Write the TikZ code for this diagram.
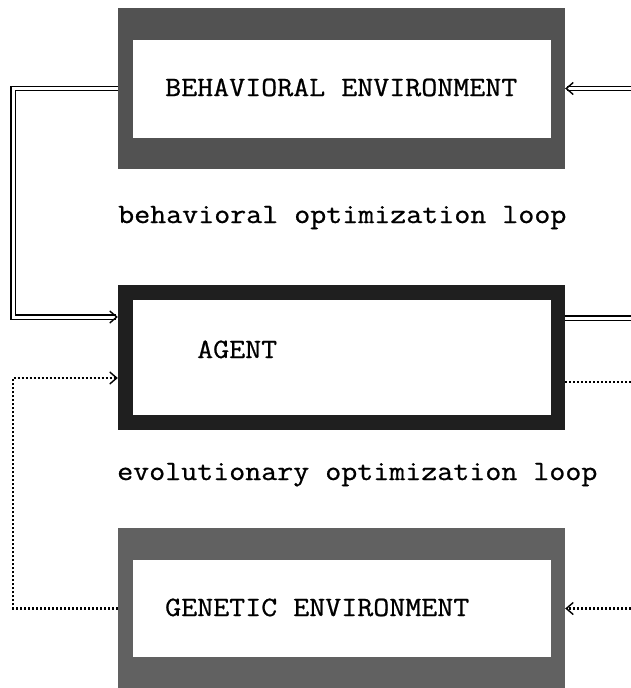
\documentclass[tikz,border=0pt]{standalone}
\usepackage{fontspec}
\setmonofont{Latin Modern Mono}[FakeStretch=1.11, FakeBold=0.8]
\usetikzlibrary{arrows.meta,positioning}

\begin{document}
\begin{tikzpicture}[x=1pt, y=-1pt,
    >={Straight Barb[length=7pt, width=12pt, line width=1.4pt]},
    font=\fontsize{28}{32}\selectfont\ttfamily,
    frame/.style={rectangle, inner sep=0pt, minimum width=447pt},
    pane/.style={rectangle, fill=white, inner sep=0pt, minimum width=418pt},
    dbl/.style={double, line width=1.3pt, double distance=3pt},
    dots/.style={line width=2.2pt, dash pattern=on 2pt off 2pt}]
  \useasboundingbox (0,0) rectangle (631,688);

  % --- Behavioral environment ---
  \node[frame, fill=black!68, minimum height=161pt] (behenv) at (341.5,88.5) {};
  \node[pane, minimum height=98pt] (behpane) at (342,89) {};
  \node[anchor=base west, inner sep=0pt] (behtxt) at (165,96) {BEHAVIORAL ENVIRONMENT};
  \node[anchor=base west, inner sep=0pt] (behloop) at (118,223) {behavioral optimization loop};

  % --- Agent ---
  \node[frame, fill=black!88, minimum height=145pt] (agent) at (341.5,357.5) {};
  \node[pane, minimum height=115pt] (agentpane) at (342,357.5) {};
  \node[anchor=base west, inner sep=0pt] (agenttxt) at (197,358) {AGENT};
  \node[anchor=base west, inner sep=0pt] (evoloop) at (117,480) {evolutionary optimization loop};

  % --- Genetic environment ---
  \node[frame, fill=black!62, minimum height=161pt] (genenv) at (341.5,608.5) {};
  \node[pane, minimum height=97pt] (genpane) at (342,608.5) {};
  \node[anchor=base west, inner sep=0pt] (gentxt) at (165,616) {GENETIC ENVIRONMENT};

  % free ends at the right margin
  \coordinate (behin) at (631,88.5);
  \coordinate (agentout) at (631,318);
  \coordinate (agentdots) at (631,382);
  \coordinate (genin) at (631,608.5);

  % --- Behavioral loop (double lines) ---
  \draw[dbl, ->] (behenv.west) -| (13,317) -- ([yshift=40.5pt]agent.west);
  \draw[dbl, ->] (behin) -- (behenv.east);
  \draw[dbl] ([yshift=39.5pt]agent.east) -- (agentout);

  % --- Evolutionary loop (dotted lines) ---
  \draw[dots, ->] (genenv.west) -| (13,378) -- ([yshift=-20.5pt]agent.west);
  \draw[dots] ([yshift=-24.5pt]agent.east) -- (agentdots);
  \draw[dots, ->] (genin) -- (genenv.east);
\end{tikzpicture}
\end{document}
